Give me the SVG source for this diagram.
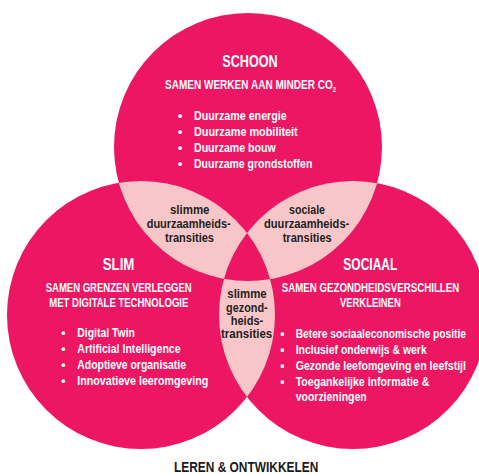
<svg xmlns="http://www.w3.org/2000/svg" width="479" height="474" viewBox="0 0 479 474">
<style>
text{font-family:"Liberation Sans Narrow","Liberation Sans",Arial,sans-serif;font-weight:bold}
.mag{fill:#EC1662}
.pink{fill:#F8C6C8}
.w{fill:#FFFFFF}
.d{fill:#231F20}
.h{font-size:16px}
.s{font-size:12px}
.b{font-size:12px}
.l{font-size:13px}
.bot{font-size:14.5px;fill:#1A1A1A}
</style>
<defs>
<clipPath id="clipA"><circle cx="248" cy="147" r="134"/></clipPath>
<clipPath id="clipB"><circle cx="141" cy="315" r="134"/></clipPath>
</defs>
<rect width="479" height="474" fill="#FFFFFF"/>
<g id="circle-schoon"><circle class="mag" cx="248" cy="147" r="134"/></g>
<g id="circle-slim"><circle class="mag" cx="141" cy="315" r="134"/></g>
<g id="circle-sociaal"><circle class="mag" cx="353" cy="315" r="134"/></g>
<g id="lens-slimme-duurzaamheid"><circle class="pink" cx="141" cy="315" r="134" clip-path="url(#clipA)"/></g>
<g id="lens-sociale-duurzaamheid"><circle class="pink" cx="353" cy="315" r="134" clip-path="url(#clipA)"/></g>
<g id="lens-slimme-gezondheid"><circle class="pink" cx="353" cy="315" r="134" clip-path="url(#clipB)"/></g>
<g id="center"><path class="mag" d="M247,233 A134,134 0 0 0 224,278.8 A134,134 0 0 0 270.1,279.1 A134,134 0 0 0 247,233 Z"/></g>

<g id="text-schoon" class="w">
<text class="h" x="222.3" y="66.7" textLength="55.4" lengthAdjust="spacingAndGlyphs">SCHOON</text>
<text class="s" x="165" y="89.3" textLength="171" lengthAdjust="spacingAndGlyphs">SAMEN WERKEN AAN MINDER CO<tspan font-size="7" dy="3">2</tspan></text>
<g class="b">
<text x="180" y="119.5" text-anchor="middle">•</text>
<text x="194" y="119.5" textLength="92.7" lengthAdjust="spacingAndGlyphs">Duurzame energie</text>
<text x="180" y="135.5" text-anchor="middle">•</text>
<text x="194" y="135.5" textLength="103.7" lengthAdjust="spacingAndGlyphs">Duurzame mobiliteit</text>
<text x="180" y="151.5" text-anchor="middle">•</text>
<text x="194" y="151.5" textLength="81.7" lengthAdjust="spacingAndGlyphs">Duurzame bouw</text>
<text x="180" y="167.5" text-anchor="middle">•</text>
<text x="194" y="167.5" textLength="118.3" lengthAdjust="spacingAndGlyphs">Duurzame grondstoffen</text>
</g>
</g>

<g id="text-slim" class="w">
<text class="h" x="102.7" y="270" textLength="31.7" lengthAdjust="spacingAndGlyphs">SLIM</text>
<text class="s" x="45.7" y="291.7" textLength="146" lengthAdjust="spacingAndGlyphs">SAMEN GRENZEN VERLEGGEN</text>
<text class="s" x="49.3" y="306.7" textLength="139" lengthAdjust="spacingAndGlyphs">MET DIGITALE TECHNOLOGIE</text>
<g class="b">
<text x="63.3" y="336.5" text-anchor="middle">•</text>
<text x="77.3" y="336.5" textLength="57.7" lengthAdjust="spacingAndGlyphs">Digital Twin</text>
<text x="63.3" y="352.5" text-anchor="middle">•</text>
<text x="77.3" y="352.5" textLength="103.3" lengthAdjust="spacingAndGlyphs">Artificial Intelligence</text>
<text x="63.3" y="368.5" text-anchor="middle">•</text>
<text x="77.3" y="368.5" textLength="108.7" lengthAdjust="spacingAndGlyphs">Adoptieve organisatie</text>
<text x="63.3" y="384.5" text-anchor="middle">•</text>
<text x="77.3" y="384.5" textLength="131" lengthAdjust="spacingAndGlyphs">Innovatieve leeromgeving</text>
</g>
</g>

<g id="text-sociaal" class="w">
<text class="h" x="343.3" y="270" textLength="54" lengthAdjust="spacingAndGlyphs">SOCIAAL</text>
<text class="s" x="281.7" y="291.7" textLength="177.6" lengthAdjust="spacingAndGlyphs">SAMEN GEZONDHEIDSVERSCHILLEN</text>
<text class="s" x="340" y="306.7" textLength="60.7" lengthAdjust="spacingAndGlyphs">VERKLEINEN</text>
<g class="b">
<text x="282.3" y="337.5" text-anchor="middle">•</text>
<text x="295.7" y="337.5" textLength="170.3" lengthAdjust="spacingAndGlyphs">Betere sociaaleconomische positie</text>
<text x="282.3" y="353.5" text-anchor="middle">•</text>
<text x="295.7" y="353.5" textLength="131" lengthAdjust="spacingAndGlyphs">Inclusief onderwijs &amp; werk</text>
<text x="282.3" y="369.5" text-anchor="middle">•</text>
<text x="295.7" y="369.5" textLength="170.3" lengthAdjust="spacingAndGlyphs">Gezonde leefomgeving en leefstijl</text>
<text x="282.3" y="385.5" text-anchor="middle">•</text>
<text x="295.7" y="385.5" textLength="133.6" lengthAdjust="spacingAndGlyphs">Toegankelijke informatie &amp;</text>
<text x="295.7" y="401" textLength="71" lengthAdjust="spacingAndGlyphs">voorzieningen</text>
</g>
</g>

<g id="text-lens-slimme-duurzaamheid" class="d l">
<text x="170" y="213.5" textLength="39.5" lengthAdjust="spacingAndGlyphs">slimme</text>
<text x="146.7" y="228" textLength="84" lengthAdjust="spacingAndGlyphs">duurzaamheids-</text>
<text x="165" y="241.5" textLength="49" lengthAdjust="spacingAndGlyphs">transities</text>
</g>
<g id="text-lens-sociale-duurzaamheid" class="d l">
<text x="289" y="213.5" textLength="36" lengthAdjust="spacingAndGlyphs">sociale</text>
<text x="264" y="228" textLength="85.3" lengthAdjust="spacingAndGlyphs">duurzaamheids-</text>
<text x="282.7" y="241.5" textLength="49" lengthAdjust="spacingAndGlyphs">transities</text>
</g>
<g id="text-lens-slimme-gezondheid" class="d l">
<text x="227.3" y="298" textLength="39.4" lengthAdjust="spacingAndGlyphs">slimme</text>
<text x="226" y="311.5" textLength="41.7" lengthAdjust="spacingAndGlyphs">gezond-</text>
<text x="230.7" y="324.5" textLength="32.6" lengthAdjust="spacingAndGlyphs">heids-</text>
<text x="221" y="338" textLength="51.3" lengthAdjust="spacingAndGlyphs">transities</text>
</g>

<g id="label-bottom">
<text class="bot" x="174" y="471.5" textLength="144.3" lengthAdjust="spacingAndGlyphs">LEREN &amp; ONTWIKKELEN</text>
</g>
</svg>
